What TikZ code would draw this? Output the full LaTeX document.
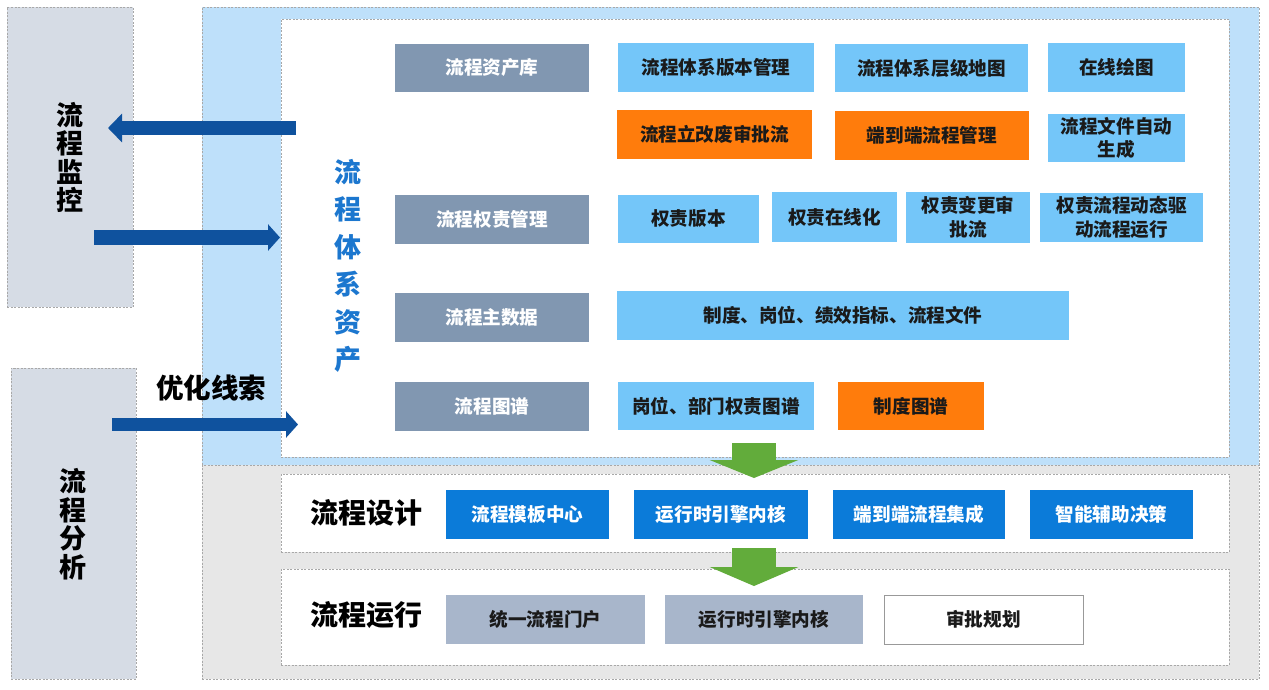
\documentclass[tikz,border=0pt]{standalone}
\usepackage{fontspec}
\setmainfont{Noto Sans CJK SC}
\usetikzlibrary{arrows.meta}
\definecolor{leftgray}{HTML}{D6DCE5}
\definecolor{panelblue}{HTML}{BEE0FA}
\definecolor{panelgray}{HTML}{E7E7E7}
\definecolor{catfill}{HTML}{8197B1}
\definecolor{lbfill}{HTML}{74C6F9}
\definecolor{orfill}{HTML}{FF7C0C}
\definecolor{dbfill}{HTML}{0B7BD9}
\definecolor{runfill}{HTML}{A8B6CB}
\definecolor{arrowblue}{HTML}{0F529E}
\definecolor{greenarr}{HTML}{62AC3B}
\definecolor{titleblue}{HTML}{1C77CF}
\definecolor{dashgray}{HTML}{A8A8A8}
\definecolor{txtdark}{HTML}{1A1A1A}
\newcommand\mkbox[7]{\node[#6, minimum width={(#4-#2)*1pt}, minimum height={(#5-#3)*1pt}] (#1) at ({(#2+#4)/2},{(#3+#5)/2}) {#7};}
\begin{document}
\begin{tikzpicture}[x=1pt,y=-1pt,
  every node/.style={inner sep=0pt, outer sep=0pt},
  dashbox/.style={draw=dashgray, line width=0.6pt, dash pattern=on 2pt off 1.5pt},
  leftbox/.style={dashbox, fill=leftgray},
  bluepanel/.style={dashbox, fill=panelblue},
  graypanel/.style={dashbox, fill=panelgray},
  whitepanel/.style={dashbox, fill=white},
  boxtxt/.style={font=\fontsize{18.6}{23.5}\selectfont\bfseries, align=center},
  catbox/.style={boxtxt, fill=catfill, text=white},
  lbbox/.style={boxtxt, fill=lbfill, text=txtdark},
  orbox/.style={boxtxt, fill=orfill, text=txtdark},
  dbbox/.style={boxtxt, fill=dbfill, text=white},
  runbox/.style={boxtxt, fill=runfill, text=txtdark},
  whbox/.style={boxtxt, fill=white, draw=gray!80, line width=0.8pt, text=txtdark},
  bigtxt/.style={font=\fontsize{28}{28}\selectfont\bfseries, text=black},
  vtxt/.style={font=\fontsize{27}{28.5}\selectfont\bfseries, align=center, text=black},
  bluearrow/.style={draw=arrowblue},
  greenarrow/.style={draw=greenarr}
]
\useasboundingbox (0,0) rectangle (1269,689);

% left panels
\mkbox{mon}{7}{7}{133}{307}{leftbox}{}
\mkbox{ana}{11}{368}{136}{679}{leftbox}{}
\node[vtxt] (montxt) at (70,157.5) {流\\程\\监\\控};
\node[vtxt] (anatxt) at (73,524) {流\\程\\分\\析};

% big panels
\mkbox{bluep}{202}{7}{1259}{465}{bluepanel}{}
\mkbox{grayp}{202}{465}{1259}{679}{graypanel}{}
\mkbox{asset}{281}{19}{1229}{457}{whitepanel}{}
\mkbox{design}{281}{474}{1229}{552}{whitepanel}{}
\mkbox{run}{281}{569}{1229}{665}{whitepanel}{}

\node[font=\fontsize{27}{37.5}\selectfont\bfseries, align=center, text=titleblue] (assettxt) at (348,266) {流\\程\\体\\系\\资\\产};

% category boxes
\mkbox{c1}{395}{44}{589}{92}{catbox}{流程资产库}
\mkbox{c2}{395}{195}{589}{244}{catbox}{流程权责管理}
\mkbox{c3}{395}{293}{589}{342}{catbox}{流程主数据}
\mkbox{c4}{395}{382}{589}{431}{catbox}{流程图谱}

% row 1
\mkbox{a1}{618}{43}{814}{92}{lbbox}{流程体系版本管理}
\mkbox{a2}{835}{44}{1028}{92}{lbbox}{流程体系层级地图}
\mkbox{a3}{1048}{43}{1185}{92}{lbbox}{在线绘图}
% row 2
\mkbox{b1}{617}{110}{812}{159}{orbox}{流程立改废审批流}
\mkbox{b2}{835}{111}{1029}{160}{orbox}{端到端流程管理}
\mkbox{b3}{1048}{114}{1185}{162}{lbbox}{流程文件自动\\生成}
% row 3
\mkbox{r1}{618}{195}{759}{243}{lbbox}{权责版本}
\mkbox{r2}{772}{192}{897}{242}{lbbox}{权责在线化}
\mkbox{r3}{906}{192}{1030}{243}{lbbox}{权责变更审\\批流}
\mkbox{r4}{1040}{193}{1203}{242}{lbbox}{权责流程动态驱\\动流程运行}
% row 4
\mkbox{m1}{617}{291}{1069}{340}{lbbox}{制度、岗位、绩效指标、流程文件}
% row 5
\mkbox{g1}{618}{382}{814}{430}{lbbox}{岗位、部门权责图谱}
\mkbox{g2}{838}{382}{984}{430}{orbox}{制度图谱}

% design row
\node[bigtxt, anchor=west] (designtxt) at (310,513) {流程设计};
\mkbox{d1}{446}{490}{609}{539}{dbbox}{流程模板中心}
\mkbox{d2}{634}{490}{808}{539}{dbbox}{运行时引擎内核}
\mkbox{d3}{833}{490}{1005}{539}{dbbox}{端到端流程集成}
\mkbox{d4}{1030}{490}{1193}{539}{dbbox}{智能辅助决策}

% run row
\node[bigtxt, anchor=west] (runtxt) at (310,615) {流程运行};
\mkbox{e1}{446}{595}{645}{644}{runbox}{统一流程门户}
\mkbox{e2}{665}{595}{863}{644}{runbox}{运行时引擎内核}
\mkbox{e3}{884}{595}{1083}{644}{whbox}{审批规划}

% blue arrows
\coordinate (p1s) at (296,128);
\coordinate (p1e) at (108,128);
\draw[bluearrow, line width=14pt, -{Triangle[length=14pt, width=28pt]}] (p1s) -- (p1e);
\coordinate (p2s) at (94,237.5);
\coordinate (p2e) at (280,237.5);
\draw[bluearrow, line width=15pt, -{Triangle[length=12pt, width=26pt]}] (p2s) -- (p2e);
\coordinate (p3s) at (112,424.5);
\coordinate (p3e) at (298,424.5);
\draw[bluearrow, line width=13pt, -{Triangle[length=12pt, width=26pt]}] (p3s) -- (p3e);
\node[font=\fontsize{27.5}{27.5}\selectfont\bfseries, anchor=west] (optxt) at (156,388) {优化线索};

% green arrows
\coordinate (g1s) at (754,443);
\coordinate (g1e) at (754,478);
\draw[greenarrow, line width=44pt, -{Triangle[length=18pt, width=88pt]}] (g1s) -- (g1e);
\coordinate (g2s) at (754,548);
\coordinate (g2e) at (754,586);
\draw[greenarrow, line width=44pt, -{Triangle[length=19pt, width=88pt]}] (g2s) -- (g2e);
\end{tikzpicture}
\end{document}
